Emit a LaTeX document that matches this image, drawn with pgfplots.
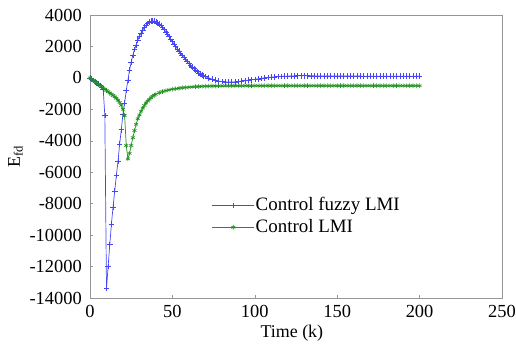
\documentclass[border=0pt]{standalone}
\usepackage{fontspec}
\setmainfont{Liberation Serif}
\usepackage{pgfplots}
\pgfplotsset{compat=1.18}
\definecolor{cblue}{RGB}{70,70,245}
\definecolor{cgreen}{RGB}{30,145,30}
\definecolor{frame}{RGB}{150,150,150}
\begin{document}
\fontsize{18}{21}\selectfont
\begin{tikzpicture}
\begin{axis}[
  scale only axis,
  width=412bp, height=283bp,
  xmin=0, xmax=250, ymin=-14000, ymax=4000,
  xtick={0,50,...,250},
  ytick={-14000,-12000,...,4000},
  scaled y ticks=false,
  /pgf/number format/1000 sep={},
  /pgf/number format/assume math mode=true,
  xtick pos=bottom, ytick pos=left,
  tick align=inside,
  major tick length=3bp,
  axis line style={frame, line width=0.8bp},
  every tick/.style={frame},
  xticklabel style={font=\fontsize{18.5}{21}\selectfont, yshift=-1bp},
  yticklabel style={font=\fontsize{18.5}{21}\selectfont, xshift=-2bp},
  xlabel={Time (k)},
  ylabel={E\textsubscript{fd}},
  xlabel style={font=\fontsize{18}{21}\selectfont, at={(axis description cs:0.49,0)}, anchor=center, yshift=-35bp},
  ylabel style={font=\fontsize{18}{21}\selectfont, at={(axis description cs:-0.181,0.5)}, anchor=center, rotate=0},
  legend style={draw=white, fill=none, at={(rel axis cs:0.295,0.36)}, anchor=north west,
    font=\fontsize{19}{22}\selectfont, inner sep=0pt, row sep=4bp, nodes={inner sep=1bp}},
  legend cell align=left,
]
\addplot[cblue, line width=0.7bp, mark=+, mark size=2.8bp, mark options={line width=0.6bp},
  legend image code/.code={\draw[cblue, line width=1bp] (0bp,0bp) -- (42bp,0bp); \draw[cblue, line width=0.6bp] plot[mark=+, mark size=2.8bp] coordinates {(21bp,0bp)};}] coordinates {
(0,0)(1,-80)(2,-160)(3,-240)(4,-320)(5,-400)(6,-480)(7,-580)(8,-700)(9,-2400)
(10,-13400)(11,-12000)(12,-10600)(13,-9300)(14,-8200)(15,-7200)(16,-6200)(17,-5300)(18,-4200)(19,-3300)
(20,-2300)(21,-1600)(22,-800)(23,-150)(24,500)(25,1000)(26,1450)(27,1800)(28,2100)(29,2400)
(30,2650)(31,2850)(32,3050)(33,3220)(34,3360)(35,3470)(36,3550)(37,3600)(38,3620)(39,3600)
(40,3560)(41,3500)(42,3420)(43,3320)(44,3200)(45,3070)(46,2930)(47,2780)(48,2620)(49,2460)
(50,2300)(51,2150)(52,2000)(53,1850)(54,1700)(55,1550)(56,1420)(57,1290)(58,1160)(59,1030)
(60,900)(61,790)(62,690)(63,590)(64,490)(65,400)(66,320)(67,250)(68,190)(69,130)
(70,80)(72,0)(74,-80)(76,-150)(78,-200)(80,-240)(82,-260)(84,-265)(86,-260)(88,-250)
(90,-230)(92,-210)(94,-180)(96,-150)(98,-120)(100,-90)(102,-60)(104,-30)(106,0)(108,20)
(110,45)(112,65)(114,80)(116,95)(118,105)(120,115)(122,125)(124,130)(126,135)(128,135)
(130,135)(132,135)(134,130)(136,130)(138,128)(140,126)(142,125)(144,124)(146,122)(148,120)
(150,120)(152,118)(154,117)(156,116)(158,115)(160,115)(162,114)(164,114)(166,113)(168,113)
(170,112)(172,112)(174,112)(176,111)(178,111)(180,111)(182,110)(184,110)(186,110)(188,110)
(190,110)(192,110)(194,110)(196,110)(198,110)(200,110)
};
\addlegendentry{Control fuzzy LMI}
\addplot[cgreen, line width=0.7bp, mark=asterisk, mark size=2.3bp, mark options={line width=0.6bp},
  legend image code/.code={\draw[cgreen, line width=1bp] (0bp,0bp) -- (42bp,0bp); \draw[cgreen, line width=0.6bp] plot[mark=asterisk, mark size=2.3bp] coordinates {(21bp,0bp)};}] coordinates {
(0,0)(1,-80)(2,-160)(3,-240)(4,-320)(5,-400)(6,-480)(7,-560)(8,-640)(9,-720)
(10,-800)(11,-880)(12,-960)(13,-1040)(14,-1120)(15,-1200)(16,-1300)(17,-1420)(18,-1560)(19,-1750)
(20,-2000)(21,-2400)(22,-4300)(23,-5150)(24,-4800)(25,-4300)(26,-3800)(27,-3350)(28,-2950)(29,-2600)
(30,-2350)(31,-2120)(32,-1920)(33,-1750)(34,-1600)(35,-1470)(36,-1360)(37,-1260)(38,-1170)(39,-1100)
(40,-1040)(42,-940)(44,-870)(46,-810)(48,-760)(50,-720)(52,-690)(54,-660)(56,-630)(58,-610)
(60,-590)(62,-575)(64,-560)(66,-550)(68,-540)(70,-530)(72,-525)(74,-520)(76,-515)(78,-512)
(80,-510)(82,-508)(84,-506)(86,-505)(88,-504)(90,-503)(92,-502)(94,-501)(96,-500)(98,-500)
(100,-500)(102,-500)(104,-500)(106,-500)(108,-500)(110,-500)(112,-500)(114,-500)(116,-500)(118,-500)
(120,-500)(122,-500)(124,-500)(126,-500)(128,-500)(130,-500)(132,-500)(134,-500)(136,-500)(138,-500)
(140,-500)(142,-500)(144,-500)(146,-500)(148,-500)(150,-500)(152,-500)(154,-500)(156,-500)(158,-500)
(160,-500)(162,-500)(164,-500)(166,-500)(168,-500)(170,-500)(172,-500)(174,-500)(176,-500)(178,-500)
(180,-500)(182,-500)(184,-500)(186,-500)(188,-500)(190,-500)(192,-500)(194,-500)(196,-500)(198,-500)
(200,-500)
};
\addlegendentry{Control LMI}
\end{axis}
\pgfresetboundingbox
\path[use as bounding box] ([xshift=-90bp,yshift=-53bp]current axis.south west) rectangle ([xshift=14bp,yshift=15bp]current axis.north east);
\end{tikzpicture}
\end{document}
